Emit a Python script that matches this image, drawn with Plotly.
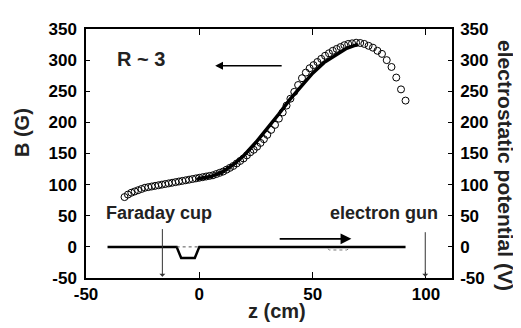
import plotly.graph_objects as go

# Measured B (open circles)
z_meas = [-33, -31.5, -30, -28.5, -27, -25.5, -24, -22.5, -21, -19.5, -18, -16.5, -15, -13.5,
          -12, -10.5, -9, -7.5, -6, -4.5, -3, -1.5, 0, 1.5, 3, 4.5, 6, 7.5, 9, 10.5, 12, 13.5,
          15, 16.5, 18, 19.5, 21, 22.5, 24, 25.5, 27, 28.5, 30, 31.7, 33.4, 35.1, 36.8, 38.5,
          40.2, 41.9, 43.6, 45.3, 47, 48.7, 50.4, 52.1, 53.8, 55.5, 57.2, 58.9, 60.6, 62.3,
          64, 65.7, 67.4, 69.2, 71, 72.8, 74.7, 76.6, 78.6, 80.6, 82.7, 84.8, 86.9, 89, 91]
b_meas = [80, 84, 87, 89, 91, 93, 95, 96, 97, 98, 99, 100, 101, 102,
          103, 104, 105, 106, 107, 108, 109, 110, 111, 112, 113, 114, 115, 117, 119, 121, 124, 127,
          130, 134, 138, 142, 147, 152, 156, 161, 167, 173, 180, 188, 196, 206, 216, 227,
          238, 249, 260, 271, 280, 287, 292, 297, 302, 307, 311, 315, 318, 321,
          324, 326, 327, 328, 327.5, 326, 323, 320, 315, 310, 300, 289, 272, 253, 235]

# Calculated B (thick line)
z_calc = [-1, 0, 5, 10, 15, 20, 25, 30, 35, 40, 45, 50, 55, 60, 65, 68, 70]
b_calc = [108, 110, 113, 120, 132, 148, 168, 190, 213, 237, 259, 279, 296, 308, 319, 323, 325]

# Electrostatic potential
z_pot = [-40.5, -10, -8, -2, 0, 91]
v_pot = [0, 0, -18, -18, 0, 0]
z_dot1 = [-10, 0]
v_dot1 = [0, 0]
z_dot2 = [56.7, 57.5, 65, 66]
v_dot2 = [-3, -5, -5, -3]

x_ticks = [-50, 0, 50, 100]
x_ticktext = ["-50", "0", "50", "100"]
y_ticks = [-50, 0, 50, 100, 150, 200, 250, 300, 350]
y_ticktext = ["-50", "0", "50", "100", "150", "200", "250", "300", "350"]

FONT = "Liberation Sans"
TXT = "#222222"

fig = go.Figure()
fig.add_trace(go.Scatter(x=z_pot, y=v_pot, mode="lines",
                         line=dict(color="black", width=2.5), showlegend=False))
fig.add_trace(go.Scatter(x=z_dot1, y=v_dot1, mode="lines",
                         line=dict(color="#555555", width=1, dash="dot"), showlegend=False))
fig.add_trace(go.Scatter(x=z_dot2, y=v_dot2, mode="lines",
                         line=dict(color="#777777", width=1, dash="dot"), showlegend=False))
fig.add_trace(go.Scatter(x=z_calc, y=b_calc, mode="lines",
                         line=dict(color="black", width=3.5), showlegend=False))
fig.add_trace(go.Scatter(x=z_meas, y=b_meas, mode="markers",
                         marker=dict(symbol="circle-open", size=7, color="black",
                                     line=dict(width=1, color="black")),
                         showlegend=False))
# dummy trace on secondary axis
fig.add_trace(go.Scatter(x=[None], y=[None], yaxis="y2", showlegend=False))

fig.update_layout(
    width=513, height=320,
    margin=dict(l=78, r=69, t=14, b=50),
    paper_bgcolor="white", plot_bgcolor="white",
    font=dict(family=FONT, color="black"),
    xaxis=dict(range=[-50, 111.5], tickvals=x_ticks, ticktext=x_ticktext,
               ticks="inside", ticklen=6,
               tickwidth=1, tickcolor="black", showline=True, linecolor="black",
               linewidth=1.5, mirror="ticks", showgrid=False, zeroline=False,
               tickfont=dict(size=17, weight="bold", color="black"),
               ticklabelstandoff=0),
    yaxis=dict(range=[-50, 350], tickvals=y_ticks, ticktext=y_ticktext,
               ticks="inside", ticklen=4,
               tickwidth=1, tickcolor="black", showline=True, linecolor="black",
               linewidth=1.5, showgrid=False, zeroline=False,
               tickfont=dict(size=17, weight="bold", color="black"),
               ticklabelstandoff=4),
    yaxis2=dict(range=[-50, 350], tickvals=y_ticks, ticktext=y_ticktext,
                overlaying="y", side="right",
                ticks="inside", ticklen=4, tickwidth=1, tickcolor="black",
                showline=True, linecolor="black", linewidth=1.5, showgrid=False,
                zeroline=False, tickfont=dict(size=17, weight="bold", color="black"),
                ticklabelstandoff=3),
)

# Axis titles as annotations
fig.add_annotation(x=0.521, y=-0.132, xref="paper", yref="paper", text="z (cm)",
                   showarrow=False, font=dict(size=20, weight="bold", color=TXT),
                   xanchor="center", yanchor="middle")
fig.add_annotation(x=-0.175, y=0.586, xref="paper", yref="paper", text="B (G)",
                   showarrow=False, textangle=-90, font=dict(size=20, weight="bold", color=TXT),
                   xanchor="center", yanchor="middle")
fig.add_annotation(x=1.148, y=0.453, xref="paper", yref="paper",
                   text="electrostatic potential (V)",
                   showarrow=False, textangle=90, font=dict(size=21, weight="bold", color=TXT),
                   xanchor="center", yanchor="middle")

# Text annotations
fig.add_annotation(x=-25.6, y=302, text="R ~ 3", showarrow=False, xref="x", yref="y",
                   font=dict(size=20, weight="bold", color=TXT))
fig.add_annotation(x=-17.8, y=54, text="Faraday cup", showarrow=False, xref="x", yref="y",
                   font=dict(size=18, weight="bold", color=TXT))
fig.add_annotation(x=81.6, y=54, text="electron gun", showarrow=False, xref="x", yref="y",
                   font=dict(size=18, weight="bold", color=TXT))

# Arrows
fig.add_annotation(x=7, y=291, ax=37, ay=291, xref="x", yref="y", axref="x", ayref="y",
                   text="", showarrow=True, arrowhead=2, arrowsize=1.2, arrowwidth=1.3,
                   arrowcolor="black")
fig.add_annotation(x=67.1, y=13, ax=34.8, ay=13, xref="x", yref="y", axref="x", ayref="y",
                   text="", showarrow=True, arrowhead=2, arrowsize=1.2, arrowwidth=1.8,
                   arrowcolor="black")
fig.add_annotation(x=-16.3, y=-48, ax=-16.3, ay=31, xref="x", yref="y", axref="x", ayref="y",
                   text="", showarrow=True, arrowhead=1, arrowsize=1, arrowwidth=1,
                   arrowcolor="#333333")
fig.add_annotation(x=99.7, y=-48, ax=99.7, ay=26, xref="x", yref="y", axref="x", ayref="y",
                   text="", showarrow=True, arrowhead=1, arrowsize=1, arrowwidth=1,
                   arrowcolor="#333333")

fig.write_html("out.html", config={"displayModeBar": False})
